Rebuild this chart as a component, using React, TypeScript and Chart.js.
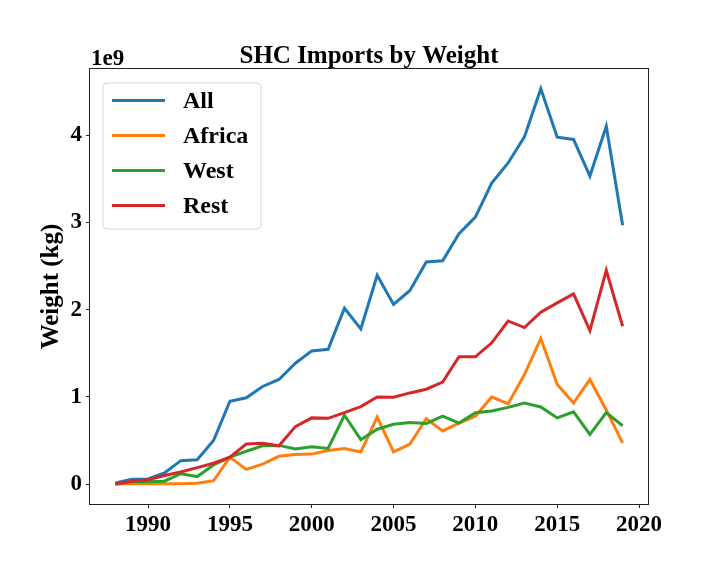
import React, { useEffect, useRef } from "react";
import { Chart, registerables } from "chart.js";

Chart.register(...registerables);

const years = [
  1988, 1989, 1990, 1991, 1992, 1993, 1994, 1995, 1996, 1997, 1998, 1999, 2000, 2001, 2002, 2003,
  2004, 2005, 2006, 2007, 2008, 2009, 2010, 2011, 2012, 2013, 2014, 2015, 2016, 2017, 2018, 2019,
];
const allValues = [
  0.015, 0.057, 0.06, 0.13, 0.27, 0.28, 0.5, 0.95, 0.99, 1.12, 1.2, 1.386, 1.527, 1.546, 2.016, 1.78,
  2.394, 2.06, 2.22, 2.546, 2.56, 2.87, 3.06, 3.45, 3.68, 3.98, 4.53, 3.975, 3.95, 3.53, 4.1, 2.967,
];
const africaValues = [
  0.005, 0.005, 0.005, 0.005, 0.005, 0.01, 0.04, 0.31, 0.17, 0.23, 0.32, 0.34, 0.345, 0.386, 0.41, 0.37,
  0.77, 0.37, 0.46, 0.75, 0.61, 0.7, 0.78, 1.0, 0.92, 1.256, 1.67, 1.145, 0.93, 1.2, 0.85, 0.473,
];
const westValues = [
  0.005, 0.027, 0.027, 0.035, 0.12, 0.088, 0.22, 0.31, 0.378, 0.44, 0.445, 0.405, 0.43, 0.41, 0.79, 0.51,
  0.63, 0.687, 0.706, 0.695, 0.78, 0.7, 0.82, 0.84, 0.88, 0.93, 0.885, 0.76, 0.83, 0.57, 0.82, 0.67,
];
const restValues = [
  0.0, 0.035, 0.05, 0.1, 0.14, 0.19, 0.24, 0.31, 0.46, 0.47, 0.44, 0.66, 0.76, 0.755, 0.82, 0.89,
  1.0, 0.997, 1.046, 1.088, 1.17, 1.46, 1.46, 1.62, 1.87, 1.795, 1.97, 2.077, 2.18, 1.76, 2.45, 1.81,
];
const seriesLabels = ["All", "Africa", "West", "Rest"];
const seriesColors = ["#1f77b4", "#ff7f0e", "#2ca02c", "#d62728"];
const xTickValues = [1990, 1995, 2000, 2005, 2010, 2015, 2020];
const yTickValues = [0, 1, 2, 3, 4];
const chartTitle = "SHC Imports by Weight";
const yAxisTitle = "Weight (kg)";
const yOffsetText = "1e9";

const FONT = "'Liberation Serif', 'Times New Roman', serif";

const decorPlugin = {
  id: "decor",
  afterDraw(chart: any) {
    const ctx = chart.ctx;
    const a = chart.chartArea;
    ctx.save();
    // frame
    ctx.strokeStyle = "#222";
    ctx.lineWidth = 1;
    ctx.strokeRect(Math.round(a.left) - 0.5, Math.round(a.top) - 0.5, Math.round(a.right - a.left) + 1, Math.round(a.bottom - a.top) + 1);

    // title
    ctx.fillStyle = "#000";
    ctx.font = `bold 25px ${FONT}`;
    ctx.textAlign = "center";
    ctx.textBaseline = "alphabetic";
    ctx.fillText(chartTitle, (a.left + a.right) / 2, 63);

    // offset text
    ctx.font = `bold 23px ${FONT}`;
    ctx.textAlign = "left";
    ctx.fillText(yOffsetText, a.left + 1, 65);

    // y axis title
    ctx.save();
    ctx.translate(52, (a.top + a.bottom) / 2);
    ctx.rotate(-Math.PI / 2);
    ctx.font = `bold 25px ${FONT}`;
    ctx.textAlign = "center";
    ctx.textBaseline = "middle";
    ctx.fillText(yAxisTitle, 0, 0);
    ctx.restore();

    // legend
    const bx = a.left + 13;
    const by = a.top + 14;
    const bw = 158;
    const bh = 146;
    const r = 4;
    ctx.beginPath();
    ctx.moveTo(bx + r, by);
    ctx.lineTo(bx + bw - r, by);
    ctx.quadraticCurveTo(bx + bw, by, bx + bw, by + r);
    ctx.lineTo(bx + bw, by + bh - r);
    ctx.quadraticCurveTo(bx + bw, by + bh, bx + bw - r, by + bh);
    ctx.lineTo(bx + r, by + bh);
    ctx.quadraticCurveTo(bx, by + bh, bx, by + bh - r);
    ctx.lineTo(bx, by + r);
    ctx.quadraticCurveTo(bx, by, bx + r, by);
    ctx.closePath();
    ctx.fillStyle = "rgba(255,255,255,0.8)";
    ctx.fill();
    ctx.strokeStyle = "#d6d6d6";
    ctx.lineWidth = 1;
    ctx.stroke();

    chart.data.datasets.forEach((ds: any, i: number) => {
      const y = by + 17.5 + i * 35;
      ctx.strokeStyle = ds.borderColor;
      ctx.lineWidth = 3;
      ctx.beginPath();
      ctx.moveTo(bx + 9, y);
      ctx.lineTo(bx + 62, y);
      ctx.stroke();
      ctx.fillStyle = "#000";
      ctx.font = `bold 24px ${FONT}`;
      ctx.textAlign = "left";
      ctx.textBaseline = "middle";
      ctx.fillText(ds.label, bx + 80, y + 1);
    });
    ctx.restore();
  },
};

export default function App() {
  const canvasRef = useRef<HTMLCanvasElement | null>(null);

  useEffect(() => {
    const canvas = canvasRef.current;
    if (!canvas) return;
    const series = [allValues, africaValues, westValues, restValues];
    const datasets = series.map((vals, i) => ({
      label: seriesLabels[i],
      data: years.map((yr, j) => ({ x: yr, y: vals[j] })),
      borderColor: seriesColors[i],
      backgroundColor: seriesColors[i],
      borderWidth: 3,
      pointRadius: 0,
      tension: 0,
      fill: false,
      order: series.length - i,
    }));
    const tickFont = { family: FONT, weight: "bold" as const, size: 23 };
    const chart = new Chart(canvas, {
      type: "line",
      data: { datasets },
      options: {
        animation: false,
        responsive: false,
        devicePixelRatio: 1,
        layout: { padding: { top: 69, left: 0, right: 72, bottom: 0 } },
        plugins: { legend: { display: false }, title: { display: false }, tooltip: { enabled: false } },
        scales: {
          x: {
            type: "linear",
            min: 1986.45,
            max: 2020.55,
            afterBuildTicks: (scale: any) => {
              scale.ticks = xTickValues.map((v) => ({ value: v }));
            },
            afterFit: (scale: any) => {
              scale.height = 72;
            },
            grid: { display: true, drawOnChartArea: false, drawTicks: true, tickLength: 4, color: "#222" },
            border: { display: false },
            ticks: { color: "#000", font: tickFont, padding: 3, maxRotation: 0, callback: (v: any) => String(v) },
          },
          y: {
            type: "linear",
            min: -0.2265,
            max: 4.7565,
            afterBuildTicks: (scale: any) => {
              scale.ticks = yTickValues.map((v) => ({ value: v }));
            },
            afterFit: (scale: any) => {
              scale.width = 90;
            },
            grid: { display: true, drawOnChartArea: false, drawTicks: true, tickLength: 4, color: "#222" },
            border: { display: false },
            ticks: { color: "#000", font: tickFont, padding: 4, callback: (v: any) => String(v) },
          },
        },
      },
      plugins: [decorPlugin],
    });
    return () => chart.destroy();
  }, []);

  return (
    <div style={{ position: "fixed", left: 0, top: 0, width: 720, height: 576, background: "#fff" }}>
      <canvas ref={canvasRef} width={720} height={576} style={{ display: "block", width: 720, height: 576 }} />
    </div>
  );
}
